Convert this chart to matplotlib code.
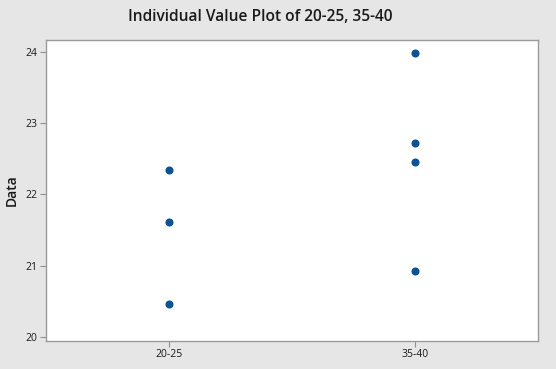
import matplotlib
matplotlib.use("Agg")
import matplotlib.pyplot as plt

# data
groups = ["20-25", "35-40"]
vals_20_25 = [22.35, 21.61, 20.47]
vals_35_40 = [23.98, 22.72, 22.46, 20.93]
yticks = [20, 21, 22, 23, 24]

plt.rcParams['font.family'] = ['Open Sans', 'DejaVu Sans']

fig = plt.figure(figsize=(5.56, 3.69), dpi=100, facecolor="#e6e6e6")
ax = fig.add_axes([46/556, 1 - 341/369, (538-46)/556, (341-40)/369])
ax.set_facecolor("white")

for i, vals in enumerate([vals_20_25, vals_35_40]):
    ax.plot([i + 1] * len(vals), vals, "o", color="#0b5394", markersize=4.8,
            linestyle="none")

ax.set_xlim(0.5, 2.5)
ax.set_ylim(19.944, 24.168)
ax.set_xticks([1, 2])
ax.set_xticklabels(groups)
ax.set_yticks(yticks)
ax.tick_params(direction="out", length=4, width=0.8, color="#909090",
               labelsize=7.5, pad=2, labelcolor="#1a1a1a")
for sp in ax.spines.values():
    sp.set_color("#9a9a9a")
    sp.set_linewidth(1)

ax.set_ylabel("Data", fontsize=10, labelpad=5, color="#1a1a1a", weight="semibold")
fig.suptitle("Individual Value Plot of 20-25, 35-40", x=0.468, y=0.975,
             fontsize=11.2, color="#1a1a1a", weight="semibold")

fig.savefig("out.png", dpi=100, facecolor=fig.get_facecolor())
